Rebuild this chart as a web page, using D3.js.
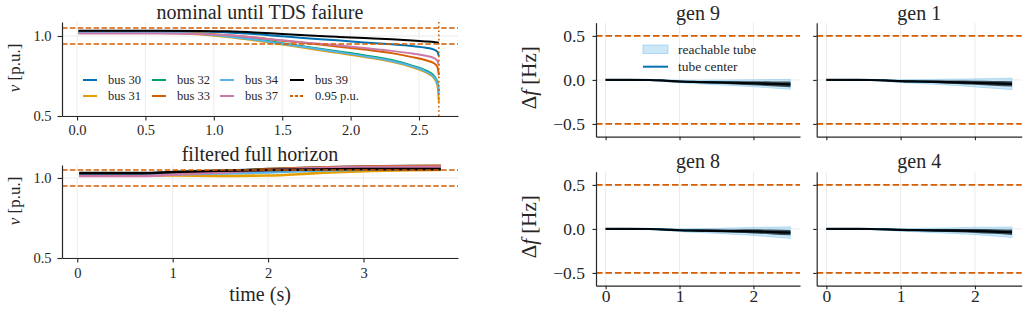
<!DOCTYPE html>
<html>
<head>
<meta charset="utf-8">
<script src="https://cdnjs.cloudflare.com/ajax/libs/d3/7.8.5/d3.min.js"></script>
<style>
  body { margin: 0; background: #fff; }
  svg text { font-family: "Liberation Serif", "Times New Roman", serif; fill: #262626; }
  .tick line { stroke: #262626; stroke-width: 1.1; }
  .domain { stroke: #262626; stroke-width: 1.2; }
</style>
</head>
<body>
<div class="chart"></div>
<script>
// ---- data ----
var busNames = ["bus 30", "bus 31", "bus 32", "bus 33", "bus 34", "bus 37", "bus 39"];
var busColors = ["#0072B2", "#E69F00", "#009E73", "#D55E00", "#56B4E9", "#CC79A7", "#000000"];

// nominal run, until the TDS failure
var tNominal = [0.01, 0.6, 0.9, 1.1, 1.3, 1.5, 1.7, 1.9, 2.1, 2.3, 2.45, 2.55, 2.61, 2.635, 2.645];
var nom30 = [1.030, 1.030, 1.028, 1.022, 1.012, 0.998, 0.985, 0.973, 0.960, 0.948, 0.937, 0.927, 0.915, 0.900, 0.875];
var nom31 = [1.018, 1.018, 1.010, 0.994, 0.972, 0.947, 0.921, 0.895, 0.869, 0.839, 0.805, 0.772, 0.735, 0.690, 0.585];
var nom32 = [1.022, 1.022, 1.015, 1.000, 0.980, 0.955, 0.930, 0.905, 0.880, 0.850, 0.815, 0.785, 0.750, 0.710, 0.655];
var nom33 = [1.020, 1.020, 1.015, 1.004, 0.990, 0.971, 0.953, 0.935, 0.915, 0.893, 0.868, 0.848, 0.830, 0.805, 0.755];
var nom34 = [1.020, 1.020, 1.012, 0.997, 0.976, 0.951, 0.926, 0.900, 0.874, 0.844, 0.810, 0.778, 0.742, 0.700, 0.635];
var nom37 = [1.015, 1.015, 1.012, 1.004, 0.990, 0.973, 0.957, 0.942, 0.925, 0.907, 0.890, 0.876, 0.862, 0.845, 0.815];
var nom39 = [1.033, 1.033, 1.032, 1.029, 1.022, 1.012, 1.003, 0.995, 0.987, 0.979, 0.972, 0.966, 0.962, 0.960, 0.958];
var failureTime = 2.645;

// filtered, full horizon
var tFull = [0.02, 0.7, 1.0, 1.5, 2.0, 2.5, 3.0, 3.5, 3.81];
var full30 = [1.028, 1.028, 1.035, 1.045, 1.055, 1.065, 1.072, 1.075, 1.075];
var full31 = [1.015, 1.015, 1.015, 1.013, 1.015, 1.030, 1.042, 1.048, 1.050];
var full32 = [1.020, 1.020, 1.025, 1.033, 1.045, 1.055, 1.062, 1.065, 1.066];
var full33 = [1.015, 1.015, 1.025, 1.040, 1.055, 1.065, 1.072, 1.075, 1.076];
var full34 = [1.018, 1.018, 1.022, 1.028, 1.035, 1.045, 1.052, 1.055, 1.056];
var full37 = [1.012, 1.012, 1.020, 1.035, 1.050, 1.062, 1.068, 1.070, 1.070];
var full39 = [1.030, 1.030, 1.037, 1.045, 1.050, 1.053, 1.055, 1.055, 1.055];

var voltLimits = [0.95, 1.05];

// generator frequency tubes
var genNames = ["gen 9", "gen 1", "gen 8", "gen 4"];
var tGen = [0, 0.3, 0.6, 0.8, 1.0, 1.25, 1.5, 1.75, 2.0, 2.25, 2.5];
var gen9Center = [0, 0, -0.001, -0.008, -0.018, -0.024, -0.028, -0.033, -0.038, -0.044, -0.050];
var gen1Center = [0, 0, -0.001, -0.006, -0.014, -0.018, -0.022, -0.027, -0.033, -0.039, -0.045];
var gen8Center = [0, 0, -0.001, -0.007, -0.015, -0.019, -0.022, -0.025, -0.028, -0.035, -0.042];
var gen4Center = [0, 0, -0.001, -0.005, -0.011, -0.014, -0.017, -0.020, -0.023, -0.030, -0.038];
var gen9Tube = [0.003, 0.005, 0.007, 0.010, 0.015, 0.020, 0.026, 0.033, 0.040, 0.048, 0.057];
var gen1Tube = [0.003, 0.005, 0.007, 0.011, 0.016, 0.022, 0.029, 0.037, 0.046, 0.056, 0.066];
var gen8Tube = [0.003, 0.005, 0.007, 0.011, 0.016, 0.022, 0.029, 0.037, 0.046, 0.056, 0.066];
var gen4Tube = [0.003, 0.005, 0.007, 0.010, 0.015, 0.020, 0.027, 0.034, 0.042, 0.050, 0.060];
var gen9Spread = [0.002, 0.003, 0.004, 0.006, 0.008, 0.011, 0.014, 0.018, 0.022, 0.027, 0.032];
var gen1Spread = [0.002, 0.003, 0.004, 0.006, 0.009, 0.012, 0.015, 0.019, 0.023, 0.027, 0.031];
var gen8Spread = [0.002, 0.003, 0.004, 0.006, 0.009, 0.012, 0.015, 0.019, 0.023, 0.027, 0.031];
var gen4Spread = [0.002, 0.003, 0.004, 0.006, 0.008, 0.011, 0.014, 0.018, 0.022, 0.026, 0.030];
var freqLimits = [-0.5, 0.5];

// ---- build series ----
function zip(ts, vs) {
    return ts.map(function(t, i) { return { t: t, v: vs[i] }; });
}
var nominalSeries = [nom30, nom31, nom32, nom33, nom34, nom37, nom39].map(function(vs, i) {
    return { name: busNames[i], color: busColors[i], values: zip(tNominal, vs) };
});
var fullSeries = [full30, full31, full32, full33, full34, full37, full39].map(function(vs, i) {
    return { name: busNames[i], color: busColors[i], values: zip(tFull, vs) };
});
var genCenters = [gen9Center, gen1Center, gen8Center, gen4Center];
var genTubes = [gen9Tube, gen1Tube, gen8Tube, gen4Tube];
var genSpreads = [gen9Spread, gen1Spread, gen8Spread, gen4Spread];

var orange = "#D55E00";
var gridColor = "#ebebeb";

var svg = d3.select(".chart").append("svg")
    .attr("width", 1028)
    .attr("height", 310);

// axes helper: grid, left + bottom spines with ticks
function makeAxes(box, x, y, opts) {
    var g = svg.append("g");
    var grid = g.append("g");
    opts.xTicks.forEach(function(t) {
        grid.append("line")
            .attr("x1", x(t)).attr("x2", x(t))
            .attr("y1", box.y0).attr("y2", box.y1)
            .attr("stroke", gridColor).attr("stroke-width", 1);
    });
    opts.yTicks.forEach(function(t) {
        grid.append("line")
            .attr("x1", box.x0).attr("x2", box.x1)
            .attr("y1", y(t)).attr("y2", y(t))
            .attr("stroke", gridColor).attr("stroke-width", 1);
    });
    var plot = g.append("g");

    var xAxis = d3.axisBottom(x)
        .tickValues(opts.xTicks)
        .tickSize(opts.tickLen)
        .tickSizeOuter(0)
        .tickPadding(opts.xPad)
        .tickFormat(opts.xFormat);
    var yAxis = d3.axisLeft(y)
        .tickValues(opts.yTicks)
        .tickSize(opts.tickLen)
        .tickSizeOuter(0)
        .tickPadding(opts.yPad)
        .tickFormat(opts.yFormat);

    var top = g.append("g");
    top.append("g")
        .attr("transform", "translate(0," + box.y1 + ")")
        .call(xAxis)
        .attr("font-family", null)
        .call(function(s) { s.selectAll("text").style("font-size", opts.fontSize + "px").attr("fill", "#262626"); });
    top.append("g")
        .attr("transform", "translate(" + box.x0 + ",0)")
        .call(yAxis)
        .attr("font-family", null)
        .call(function(s) { s.selectAll("text").style("font-size", opts.fontSize + "px").attr("fill", "#262626"); });
    return plot;
}

function fmt1(d) { return d3.format(".1f")(d).replace("-", "\u2212"); }
function fmt0(d) { return d3.format("d")(d); }
function blank() { return ""; }

// ---- top left: nominal until TDS failure ----
var boxA = { x0: 62, x1: 458, y0: 22, y1: 116 };
var xA = d3.scaleLinear().domain([-0.11, 2.785]).range([boxA.x0, boxA.x1]);
var yA = d3.scaleLinear().domain([0.5, 1.0875]).range([boxA.y1, boxA.y0]);
var plotA = makeAxes(boxA, xA, yA, {
    xTicks: [0, 0.5, 1, 1.5, 2, 2.5], yTicks: [0.5, 1.0],
    tickLen: 4.5, xPad: 4, yPad: 6, fontSize: 14.5,
    xFormat: fmt1, yFormat: fmt1
});
var lineA = d3.line()
    .x(function(d) { return xA(d.t); })
    .y(function(d) { return yA(d.v); })
    .curve(d3.curveMonotoneX);
plotA.selectAll(".bus")
    .data(nominalSeries)
    .enter()
    .append("path")
    .attr("d", function(d) { return lineA(d.values); })
    .attr("fill", "none")
    .attr("stroke", function(d) { return d.color; })
    .attr("stroke-width", 2);
voltLimits.forEach(function(v) {
    plotA.append("line")
        .attr("x1", boxA.x0).attr("x2", boxA.x1)
        .attr("y1", yA(v)).attr("y2", yA(v))
        .attr("stroke", orange).attr("stroke-width", 1.6)
        .attr("stroke-dasharray", "5.5,2.4");
});
plotA.append("line")
    .attr("x1", xA(failureTime)).attr("x2", xA(failureTime))
    .attr("y1", boxA.y0).attr("y2", boxA.y1)
    .attr("stroke", orange).attr("stroke-width", 1.6)
    .attr("stroke-dasharray", "1.6,2.6");

svg.append("text")
    .attr("x", (boxA.x0 + boxA.x1) / 2).attr("y", 19)
    .attr("text-anchor", "middle")
    .style("font-size", "20px")
    .text("nominal until TDS failure");

// legend, 4 columns x 2 rows
var legendItems = nominalSeries.map(function(d) { return { name: d.name, color: d.color, dash: null }; });
legendItems.push({ name: "0.95 p.u.", color: orange, dash: "3,2" });
var legColX = [83, 152, 220, 290];
var legRowY = [80, 96];
var legend = svg.append("g");
legendItems.forEach(function(item, i) {
    var col = Math.floor(i / 2), row = i % 2;
    var lx = legColX[col], ly = legRowY[row];
    legend.append("line")
        .attr("x1", lx).attr("x2", lx + 14)
        .attr("y1", ly).attr("y2", ly)
        .attr("stroke", item.color).attr("stroke-width", 2)
        .attr("stroke-dasharray", item.dash);
    legend.append("text")
        .attr("x", lx + 25).attr("y", ly + 4.3)
        .style("font-size", "12.5px")
        .text(item.name);
});

// ---- bottom left: filtered full horizon ----
var boxB = { x0: 62, x1: 458, y0: 165, y1: 258 };
var xB = d3.scaleLinear().domain([-0.16, 3.99]).range([boxB.x0, boxB.x1]);
var yB = d3.scaleLinear().domain([0.5, 1.081]).range([boxB.y1, boxB.y0]);
var plotB = makeAxes(boxB, xB, yB, {
    xTicks: [0, 1, 2, 3], yTicks: [0.5, 1.0],
    tickLen: 4.5, xPad: 5, yPad: 6, fontSize: 14.5,
    xFormat: fmt0, yFormat: fmt1
});
var lineB = d3.line()
    .x(function(d) { return xB(d.t); })
    .y(function(d) { return yB(d.v); })
    .curve(d3.curveMonotoneX);
plotB.selectAll(".bus")
    .data(fullSeries)
    .enter()
    .append("path")
    .attr("d", function(d) { return lineB(d.values); })
    .attr("fill", "none")
    .attr("stroke", function(d) { return d.color; })
    .attr("stroke-width", 2.6);
voltLimits.forEach(function(v) {
    plotB.append("line")
        .attr("x1", boxB.x0).attr("x2", boxB.x1)
        .attr("y1", yB(v)).attr("y2", yB(v))
        .attr("stroke", orange).attr("stroke-width", 1.6)
        .attr("stroke-dasharray", "5.5,2.4");
});
svg.append("text")
    .attr("x", (boxB.x0 + boxB.x1) / 2).attr("y", 161)
    .attr("text-anchor", "middle")
    .style("font-size", "20px")
    .text("filtered full horizon");
svg.append("text")
    .attr("x", (boxB.x0 + boxB.x1) / 2).attr("y", 301)
    .attr("text-anchor", "middle")
    .style("font-size", "20px")
    .text("time (s)");

// y labels for the voltage panels
[[20, 68], [20, 201]].forEach(function(p) {
    var t = svg.append("text")
        .attr("transform", "translate(" + p[0] + "," + p[1] + ") rotate(-90)")
        .attr("text-anchor", "middle")
        .style("font-size", "17px");
    t.append("tspan").style("font-style", "italic").text("v");
    t.append("tspan").text(" [p.u.]");
});

// ---- right: generator frequency tubes ----
var colsX = [[596, 800], [816.7, 1021.7]];
var rowsY = [[22.7, 136.7], [171.7, 285.7]];
genNames.forEach(function(name, k) {
    var row = Math.floor(k / 2), col = k % 2;
    var box = { x0: colsX[col][0], x1: colsX[col][1], y0: rowsY[row][0], y1: rowsY[row][1] };
    var x = d3.scaleLinear().domain([-0.13, 2.63]).range([box.x0, box.x1]);
    var y = d3.scaleLinear().domain([-0.645, 0.65]).range([box.y1, box.y0]);
    var plot = makeAxes(box, x, y, {
        xTicks: [0, 1, 2], yTicks: [-0.5, 0, 0.5],
        tickLen: 3.5, xPad: 0.5, yPad: 7.5, fontSize: 17.5,
        xFormat: row === 1 ? fmt0 : blank,
        yFormat: col === 0 ? fmt1 : blank
    });
    var pts = tGen.map(function(t, i) {
        return { t: t, c: genCenters[k][i], w: genTubes[k][i], s: genSpreads[k][i] };
    });
    var tube = d3.area()
        .x(function(d) { return x(d.t); })
        .y0(function(d) { return y(d.c - d.w); })
        .y1(function(d) { return y(d.c + d.w); })
        .curve(d3.curveMonotoneX);
    var spread = d3.area()
        .x(function(d) { return x(d.t); })
        .y0(function(d) { return y(d.c - d.s); })
        .y1(function(d) { return y(d.c + d.s); })
        .curve(d3.curveMonotoneX);
    var center = d3.line()
        .x(function(d) { return x(d.t); })
        .y(function(d) { return y(d.c); })
        .curve(d3.curveMonotoneX);
    plot.append("path").attr("d", tube(pts))
        .attr("fill", "#56B4E9").attr("fill-opacity", 0.3)
        .attr("stroke", "#56B4E9").attr("stroke-opacity", 0.35).attr("stroke-width", 1);
    plot.append("path").attr("d", center(pts))
        .attr("fill", "none").attr("stroke", "#0072B2").attr("stroke-width", 2);
    plot.append("path").attr("d", spread(pts))
        .attr("fill", "#0a1a24").attr("fill-opacity", 0.75);
    plot.append("path").attr("d", center(pts))
        .attr("fill", "none").attr("stroke", "#000").attr("stroke-width", 2.2)
        .attr("stroke-opacity", 0.9);
    freqLimits.forEach(function(v) {
        plot.append("line")
            .attr("x1", box.x0).attr("x2", box.x1)
            .attr("y1", y(v)).attr("y2", y(v))
            .attr("stroke", orange).attr("stroke-width", 1.8)
            .attr("stroke-dasharray", "6.5,3");
    });
    svg.append("text")
        .attr("x", (box.x0 + box.x1) / 2).attr("y", row === 0 ? 20 : 168)
        .attr("text-anchor", "middle")
        .style("font-size", "20px")
        .text(name);
    if (col === 0) {
        var t = svg.append("text")
            .attr("transform", "translate(536," + ((box.y0 + box.y1) / 2 - 2) + ") rotate(-90)")
            .attr("text-anchor", "middle")
            .style("font-size", "21px");
        t.append("tspan").text("\u0394");
        t.append("tspan").style("font-style", "italic").text("f");
        t.append("tspan").text(" [Hz]");
    }
    if (k === 0) {
        var lg = svg.append("g");
        lg.append("rect")
            .attr("x", 643).attr("y", 45).attr("width", 25).attr("height", 8.5)
            .attr("fill", "#56B4E9").attr("fill-opacity", 0.3)
            .attr("stroke", "#56B4E9").attr("stroke-opacity", 0.4);
        lg.append("text").attr("x", 678).attr("y", 54)
            .style("font-size", "13.5px").text("reachable tube");
        lg.append("line")
            .attr("x1", 643).attr("x2", 668).attr("y1", 66.7).attr("y2", 66.7)
            .attr("stroke", "#0072B2").attr("stroke-width", 2);
        lg.append("text").attr("x", 678).attr("y", 71)
            .style("font-size", "13.5px").text("tube center");
    }
});
</script>
</body>
</html>
